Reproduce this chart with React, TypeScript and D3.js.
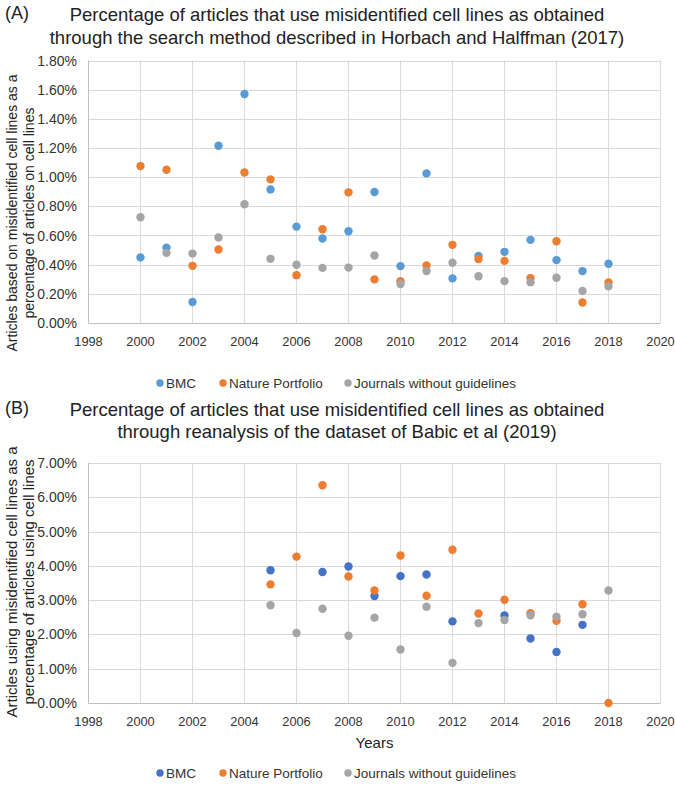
import React, { useEffect, useRef } from "react";
import * as d3 from "d3";

const years = [2000, 2001, 2002, 2003, 2004, 2005, 2006, 2007, 2008, 2009, 2010, 2011, 2012, 2013, 2014, 2015, 2016, 2017, 2018];

// panel A, percentages
const bmcA = [0.45, 0.517, 0.144, 1.215, 1.57, 0.916, 0.661, 0.579, 0.629, 0.898, 0.39, 1.026, 0.306, 0.46, 0.488, 0.57, 0.431, 0.356, 0.406];
const natureA = [1.076, 1.051, 0.392, 0.504, 1.032, 0.985, 0.328, 0.643, 0.896, 0.299, 0.287, 0.394, 0.536, 0.438, 0.426, 0.308, 0.561, 0.141, 0.278];
const otherA = [0.725, 0.481, 0.476, 0.586, 0.814, 0.44, 0.399, 0.378, 0.38, 0.463, 0.267, 0.356, 0.413, 0.321, 0.287, 0.28, 0.31, 0.219, 0.251];

// panel B, percentages (no data before 2005)
const bmcB = [null, null, null, null, null, 3.87, null, 3.82, 3.98, 3.12, 3.7, 3.75, 2.38, null, 2.55, 1.88, 1.49, 2.28, null];
const natureB = [null, null, null, null, null, 3.46, 4.27, 6.35, 3.69, 3.28, 4.3, 3.13, 4.47, 2.61, 3.01, 2.62, 2.4, 2.88, 0];
const otherB = [null, null, null, null, null, 2.85, 2.04, 2.75, 1.96, 2.49, 1.56, 2.81, 1.17, 2.33, 2.42, 2.56, 2.52, 2.59, 3.28];

const xTicks = d3.range(1998, 2021, 2);
const yTicksA = d3.range(0, 1.81, 0.2);
const yTicksB = d3.range(0, 7.01, 1);
const seriesNames = ["BMC", "Nature Portfolio", "Journals without guidelines"];

const W = 675;
const H = 787;
const FONT = "'Liberation Sans', Arial, Helvetica, sans-serif";

export default function App() {
  const svgRef = useRef<SVGSVGElement>(null);

  useEffect(() => {
    const svg = d3.select(svgRef.current);
    svg.selectAll("*").remove();
    svg.attr("font-family", FONT);

    const panel = (opts: any) => {
      const { top, bottom, yMax, yTicks, series, colors, title, label, yTitle, legendY, xTitle } = opts;
      const x = d3.scaleLinear().domain([1998, 2020]).range([88.5, 660.5]);
      const y = d3.scaleLinear().domain([0, yMax]).range([bottom, top]);
      const g = svg.append("g");

      // panel letter + title
      g.append("text").attr("x", 5).attr("y", title.y - 2).attr("font-size", 18).attr("fill", "#222").text(label);
      title.lines.forEach((t: string, i: number) => {
        g.append("text")
          .attr("x", 337)
          .attr("y", title.y + i * title.gap)
          .attr("text-anchor", "middle")
          .attr("font-size", 18.5)
          .attr("fill", "#222")
          .text(t);
      });

      // grid
      g.append("g")
        .selectAll("line")
        .data(yTicks)
        .join("line")
        .attr("x1", x(1998)).attr("x2", x(2020))
        .attr("y1", (d: number) => Math.round(y(d)) + 0.5).attr("y2", (d: number) => Math.round(y(d)) + 0.5)
        .attr("stroke", "#d9d9d9").attr("stroke-width", 1);
      g.append("g")
        .selectAll("line")
        .data(xTicks)
        .join("line")
        .attr("x1", (d: number) => x(d)).attr("x2", (d: number) => x(d))
        .attr("y1", y(0)).attr("y2", y(yMax))
        .attr("stroke", (d: number) => (d === 1998 ? "#bfbfbf" : "#d9d9d9")).attr("stroke-width", 1);
      g.append("line")
        .attr("x1", x(1998)).attr("x2", x(2020)).attr("y1", Math.round(y(0)) + 0.5).attr("y2", Math.round(y(0)) + 0.5)
        .attr("stroke", "#bfbfbf");

      // tick labels
      g.append("g")
        .selectAll("text")
        .data(yTicks)
        .join("text")
        .attr("x", 77)
        .attr("y", (d: number) => y(d) + 5)
        .attr("text-anchor", "end")
        .attr("font-size", 14)
        .attr("fill", "#333")
        .text((d: number) => d.toFixed(2) + "%");
      g.append("g")
        .selectAll("text")
        .data(xTicks)
        .join("text")
        .attr("x", (d: number) => x(d))
        .attr("y", y(0) + 23)
        .attr("text-anchor", "middle")
        .attr("font-size", 12.8)
        .attr("fill", "#333")
        .text((d: number) => d);

      // y axis title, two lines
      yTitle.lines.forEach((t: string, i: number) => {
        g.append("text")
          .attr("transform", `translate(${17 + i * 17},${yTitle.cy}) rotate(-90)`)
          .attr("text-anchor", "middle")
          .attr("font-size", yTitle.size)
          .attr("fill", "#222")
          .text(t);
      });

      if (xTitle) {
        g.append("text").attr("x", x(2009)).attr("y", y(0) + 45).attr("text-anchor", "middle")
          .attr("font-size", 15).attr("fill", "#222").text(xTitle);
      }

      // points
      series.forEach((vals: (number | null)[], si: number) => {
        g.append("g")
          .selectAll("circle")
          .data(years.map((yr, i) => ({ yr, v: vals[i] })).filter((d) => d.v !== null))
          .join("circle")
          .attr("cx", (d: any) => x(d.yr))
          .attr("cy", (d: any) => y(d.v))
          .attr("r", 4.2)
          .attr("fill", colors[si]);
      });

      // legend
      const lx = [160, 223, 348];
      seriesNames.forEach((n, i) => {
        g.append("circle").attr("cx", lx[i]).attr("cy", legendY).attr("r", 3.7).attr("fill", colors[i]);
        g.append("text").attr("x", lx[i] + 6).attr("y", legendY + 5).attr("font-size", 13.5).attr("fill", "#333").text(n);
      });
    };

    panel({
      top: 60.5,
      bottom: 323,
      yMax: 1.8,
      yTicks: yTicksA,
      series: [bmcA, natureA, otherA],
      colors: ["#5b9bd5", "#ed7d31", "#a5a5a5"],
      title: { y: 21, gap: 23, lines: ["Percentage of articles that use misidentified cell lines as obtained", "through the search method described in Horbach and Halffman (2017)"] },
      label: "(A)",
      yTitle: { cy: 213, size: 14, lines: ["Articles based on misidentified cell lines as a", "percentage of articles on cell lines"] },
      legendY: 383,
    });

    panel({
      top: 463,
      bottom: 703,
      yMax: 7,
      yTicks: yTicksB,
      series: [bmcB, natureB, otherB],
      colors: ["#4472c4", "#ed7d31", "#a5a5a5"],
      title: { y: 416, gap: 22, lines: ["Percentage of articles that use misidentified cell lines as obtained", "through reanalysis of the dataset of Babic et al (2019)"] },
      label: "(B)",
      yTitle: { cy: 582, size: 15, lines: ["Articles using misidentified cell lines as a", "percentage of articles using cell lines"] },
      legendY: 773,
      xTitle: "Years",
    });
  }, []);

  return (
    <svg
      ref={svgRef}
      width={W}
      height={H}
      style={{ position: "fixed", left: 0, top: 0, display: "block", background: "#fff" }}
    />
  );
}
